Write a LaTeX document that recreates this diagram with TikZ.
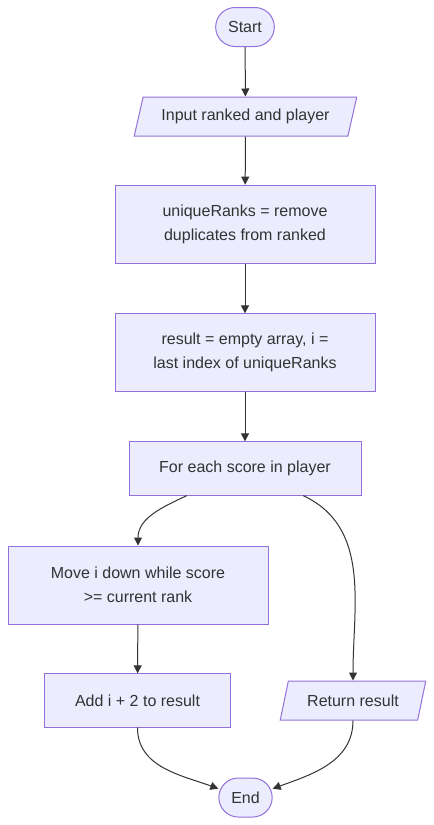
\documentclass[tikz,border=0pt]{standalone}
\usepackage{fontspec}
\setmainfont{Liberation Sans}
\usepackage{xcolor}
\usetikzlibrary{shapes.geometric, arrows.meta}

\definecolor{nodefill}{HTML}{ECECFF}
\definecolor{nodeline}{HTML}{9370DB}
\definecolor{inktext}{HTML}{333333}

\begin{document}
\begin{tikzpicture}[
    x=0.75pt, y=0.75pt,
    base/.style={draw=nodeline, line width=0.75pt, fill=nodefill, text=inktext, align=center, font=\fontsize{12}{18}\selectfont, inner sep=0pt},
    term/.style={base, rectangle, rounded corners=14.6pt, minimum width=44pt, minimum height=29.25pt},
    io/.style={base, trapezium, trapezium left angle=64, trapezium right angle=116, trapezium stretches=true, minimum height=29.25pt},
    proc/.style={base, rectangle, minimum width=195pt, minimum height=58.5pt},
    flow/.style={draw=inktext, line width=0.75pt, -{Triangle[length=6pt, width=6pt]}}
]
    \useasboundingbox (0,0) rectangle (434,-825);

    % Terminals
    \node (start) [term] at (245,-27) {Start};
    \node (stop) [term, minimum width=40pt] at (245.5,-797.5) {End};

    % Input / output
    \node (input) [io, minimum width=167pt] at (245.5,-116.5) {Input ranked and player};
    \node (ret) [io, minimum width=109.5pt] at (353,-700.5) {Return result};

    % Process steps
    \node (dedup) [proc, minimum height=59pt] at (245,-224.5) {uniqueRanks = remove\\duplicates from ranked};
    \node (init) [proc, minimum height=58pt] at (245,-352.5) {result = empty array, i =\\last index of uniqueRanks};
    \node (loop) [proc, minimum width=174pt, minimum height=40pt] at (245,-468.5) {For each score in player};
    \node (move) [proc] at (138,-585) {Move i down while score\\>= current rank};
    \node (add) [proc, minimum width=139pt, minimum height=40pt] at (137.5,-700.5) {Add i + 2 to result};

    % Connectors
    \draw [flow] (start) -- (input);
    \draw [flow] (input) -- (dedup);
    \draw [flow] (dedup) -- (init);
    \draw [flow] (init) -- (loop);
    \draw [flow] (loop.205) to[out=205, in=90] (move.north);
    \draw [flow] (loop.335) to[out=-25, in=90] (ret.north);
    \draw [flow] (move) -- (add);
    \draw [flow] (add.south) to[out=-90, in=160] (stop.162);
    \draw [flow] (ret.south) to[out=-90, in=20] (stop.18);
\end{tikzpicture}
\end{document}
